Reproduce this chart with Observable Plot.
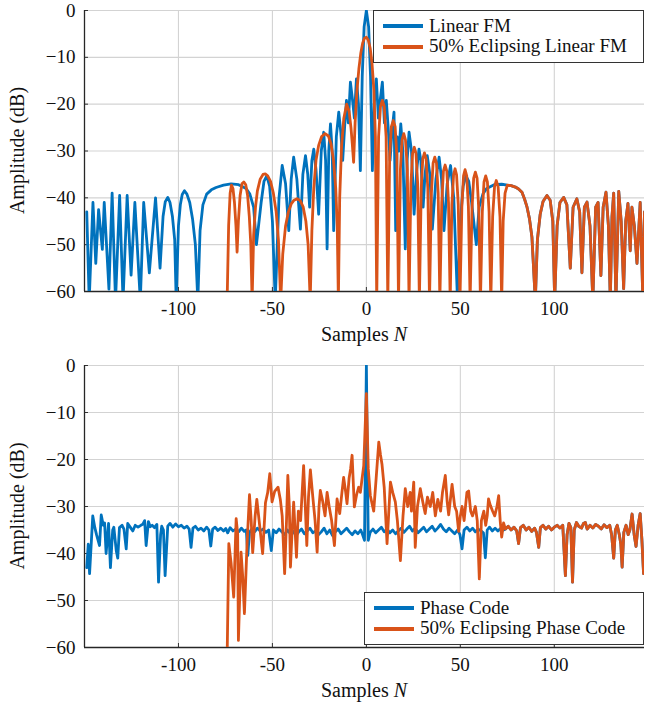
<!DOCTYPE html>
<html><head><meta charset="utf-8">
<script src="https://cdn.jsdelivr.net/npm/d3@7"></script>
<script src="https://cdn.jsdelivr.net/npm/@observablehq/plot@0.6"></script>
<style>
html,body{margin:0;padding:0;background:#fff;}
#wrap{position:relative;width:645px;height:702px;font-family:"Liberation Serif",serif;overflow:hidden;}
#wrap svg{display:block;}
.legend{position:absolute;right:1px;background:#fff;border:1px solid #333;box-sizing:border-box;font-size:19px;line-height:20.5px;padding:4.75px 0 5.25px 0;}
.row{position:relative;height:20.5px;display:flex;align-items:center;white-space:nowrap;color:#111;}
.sw{display:inline-block;width:40px;height:4px;margin-left:9px;margin-right:6px;flex:none;}
</style></head><body><div id="wrap"></div>
<script>
// ---------- shared axes ----------
const xDomain = [-150, 148];
const yDomain = [-60, 0];
const xTicks = [-100, -50, 0, 50, 100];
const yTicks = [0, -10, -20, -30, -40, -50, -60];
const colors = ["#0072BD", "#D95319"];
const seriesTop = ["Linear FM", "50% Eclipsing Linear FM"];
const seriesBottom = ["Phase Code", "50% Eclipsing Phase Code"];
const xLabel = "Samples N";
const yLabel = "Amplitude (dB)";

// ---------- top panel: Linear FM (sample, dB) ----------
const lfmMain = [
[-148.8,-43],[-147.5,-62],[-145.5,-41],[-144,-54],[-142.5,-42.5],[-140.5,-51],[-139.5,-41],[-137,-59.5],
[-135.3,-39],[-133.5,-62],[-131.3,-39.5],[-129.5,-62],[-127.3,-39.5],[-125.2,-56.5],[-123.2,-41],[-120.3,-62],
[-118.5,-41],[-115.5,-56],[-112.2,-40],[-109.8,-55],[-108.2,-44],[-107,-40.8],[-105.7,-39.9],[-104.5,-41],
[-103.2,-44],[-102,-49],[-101.2,-62],[-100,-46],[-99,-41.5],[-98,-39.3],[-96.8,-38.5],[-95.5,-39.2],[-94,-41],
[-92.5,-44.5],[-91,-50],[-89.7,-62],[-88.5,-47],[-87,-41.5],[-85,-39.2],[-82.5,-38.3],[-80,-37.8],[-76,-37.3],
[-72,-37],[-68,-37.2],[-64,-38],[-62,-39.2],[-60,-42],[-58.5,-50],[-56,-41],[-54.5,-36.5],[-53,-35.3],
[-51.5,-37.5],[-50,-45],[-48.5,-62],
[-46.5,-40],[-44.8,-33.1],[-43,-37],[-41.3,-47],[-40,-36],[-38.7,-31.3],[-37,-36],[-35.1,-46.7],[-33.8,-35],
[-32.4,-31],[-31.2,-35],[-30.2,-42],[-29,-32],[-28,-29.6],[-26.8,-34],[-25.4,-43.5],[-24,-30],[-22.7,-26],
[-21.7,-32],[-20.9,-50.9],[-20,-30],[-19.1,-24.2],[-18.2,-30],[-17.4,-47],[-16,-27],[-14.7,-21.7],[-13.6,-26],
[-12.6,-32],[-11.6,-25],[-10.6,-19.2],[-9.6,-24],[-8.5,-15.3],[-7.4,-19],[-6.4,-23],[-5.3,-14.6],[-4.2,-20],
[-3.2,-34.2],[-2.2,-14],[-1.2,-3.5],[0,0],[1.2,-3.5],[2.2,-14],[3.2,-34.2],[4.2,-20],[5.3,-14.6],[6.4,-23],
[7.4,-19],[8.5,-15.3],[9.6,-24],[10.6,-19.2],[11.6,-25],[12.6,-32],[13.6,-26],[14.7,-21.7],[15.6,-47],
[16.4,-27],[17.4,-30],[18.3,-24.2],[19.4,-30],[20.7,-50.9],[21.7,-32],[22.7,-26],[24,-30],[25.4,-43.5],
[26.8,-34],[28,-29.6],[29,-32],[30.2,-42],[31.2,-35],[32.4,-31],[33.8,-35],[35.1,-46.7],[37,-36],[38.7,-31.3],
[40,-36],[41.3,-47],[43,-37],[44.8,-33.1],[46.5,-40],[48.5,-62],[50,-45],[51.5,-37.5],[53,-35.3],[54.5,-36.5],
[56,-41],[58.5,-50],[60,-42],[62,-39.2],[64,-38],[68,-37.2],[72,-37.1]
];
// ---------- top panel: 50% Eclipsing Linear FM ----------
const lfmEclMain = [
[-74.1,-62],[-73.3,-46],[-72.5,-39],[-71.8,-37.3],[-71,-38],[-70.2,-41],[-69.4,-46],[-68.8,-51.6],[-68.1,-45],
[-67.2,-39.5],[-66.2,-37],[-65.2,-36.6],[-64.2,-37.2],[-63.2,-39.5],[-62.3,-44],[-61.5,-50],[-60.8,-62],
[-60,-48],[-59,-42],[-58,-38.5],[-56.5,-36],[-55,-35],[-53.8,-34.9],[-52.5,-35.3],[-51,-36.5],[-49.5,-39],
[-48,-43],[-46.8,-49],[-45.6,-62],[-44.5,-52],[-43,-46],[-41.5,-43],[-40,-41.3],[-38.5,-40.5],[-36.9,-40.2],
[-35.2,-40.6],[-33.6,-42],[-32.2,-45],[-31,-50],[-29.9,-62],[-29,-47],[-28,-38],[-26.8,-32],[-25.4,-28.8],
[-23.8,-26.9],[-22,-26.3],[-20.2,-26.8],[-18.8,-28.5],[-17.5,-32],[-16.3,-38],[-15.5,-46],[-14.9,-62],
[-14.2,-40],[-13.2,-29],[-12,-23],[-10.5,-20],[-9.2,-21.5],[-8.2,-25],[-7.5,-28.5],[-6.8,-32.4],[-6,-24],
[-5,-17],[-4,-12.5],[-3,-9.2],[-2,-7],[-1,-5.9],[0,-5.7],[1,-6.3],[2,-8],[3,-11.3],[4,-17],[4.8,-27],[5.5,-62],
[6.5,-27],[7.5,-20.5],[8.5,-19.2],[9.5,-20.5],[10.5,-27],[11.4,-62],
[12.4,-31],[13.3,-24.8],[14.3,-23.5],[15.3,-24.8],[16.2,-31],[17.1,-62],
[18.1,-34],[19,-27.6],[19.9,-26.3],[20.8,-27.6],[21.8,-34],[22.7,-62],
[23.7,-37],[24.6,-30.5],[25.5,-29.2],[26.4,-30.5],[27.3,-37],[28.2,-62],
[29.2,-38],[30,-31.7],[30.9,-30.4],[31.8,-31.7],[32.7,-38],[33.6,-62],
[34.6,-39],[35.5,-32.6],[36.4,-31.3],[37.3,-32.6],[38.2,-39],[39.1,-62],
[40.1,-41],[41,-34.3],[41.9,-33],[42.8,-34.3],[43.7,-41],[44.6,-62],
[45.5,-41.5],[46.4,-35.1],[47.2,-33.8],[48,-35.1],[48.9,-41.5],[49.8,-62],
[50.8,-42],[51.7,-35.3],[52.5,-34],[53.4,-35.3],[54.3,-42],[55.2,-62],
[56.2,-42.5],[57.1,-35.8],[58,-34.5],[58.9,-35.8],[59.8,-42.5],[60.7,-62],
[61.7,-43],[62.6,-36.6],[63.5,-35.3],[64.4,-36.6],[65.3,-43],[66.2,-62],
[67.2,-44],[68.2,-37.6],[69.1,-36.3],[70.1,-37.6],[71.1,-44],[72,-62],[72.8,-45],[73.8,-39]
];
// shared by both top curves beyond ~75 samples
const tailTop = [
[75,-37.3],[77,-37.4],[79.3,-37.7],[81,-38.1],[82.8,-38.8],[84.2,-40.3],[85.5,-42],[86.8,-44.5],[88.1,-48.4],
[89.9,-62],[91,-49],[92.5,-43.5],[94,-40.8],[96.1,-39.5],[97.8,-40.5],[99.2,-45],[100.2,-62],[101.5,-46],
[103,-41],[105,-39.9],[106.7,-41.5],[108.5,-55],[110,-42],[112,-40.2],[113.5,-43],[114.7,-56],[116,-42],
[117.4,-40.9],[119,-46],[120.5,-62],[122,-42],[123.3,-41],[124.8,-56.6],[126,-42],[127.5,-38.8],[128.8,-46],
[129.8,-62],[130.7,-44],[131.6,-39],[132.8,-62],[134.3,-38.6],[135.6,-45],[136.9,-59.4],[138,-45],[139.2,-41.2],
[140.4,-51.3],[141.3,-42],[142.6,-46],[144,-54],[145.7,-41],[147,-60],[148,-43]
];

// ---------- bottom panel: Phase Code ----------
const pcMain = [
[-148.8,-43],[-148,-38],[-147.3,-44.3],[-145.6,-32],[-144.5,-34.5],[-143.6,-36],[-142,-38.3],[-141.1,-31.8],
[-140,-34],[-139.3,-33.5],[-138.5,-40],[-137.2,-33.6],[-136.2,-43],[-135,-35],[-134.4,-34.4],[-133.1,-39.4],
[-132.3,-41],[-131.4,-34.5],[-130,-34],[-129,-34.8],[-127.8,-39],[-127,-33.6],[-125.5,-34.5],[-124.3,-35.2],
[-123,-34],[-121.5,-34.4],[-120,-34],[-119,-33.8],[-118,-33],[-117.2,-38.3],[-116,-33.2],[-115,-34.3],[-114,-34],
[-112.8,-34.5],[-111.5,-33.8],[-110.6,-46.1],[-109.5,-36],[-108.9,-34.2],[-108,-35],[-107.1,-44.7],[-105.7,-34.2],
[-104.5,-33.6],[-103,-34.4],[-101.5,-33.7],[-100,-34.3],[-98.5,-34],[-97,-34.6],[-95.5,-34.2],[-94.3,-34.8],
[-93.3,-38.7],[-92.3,-34.6],[-91,-34.2],[-89.5,-35],[-88,-34.6],[-86.5,-35.2],[-85,-34.4],[-83.8,-35],[-82.8,-38.4],
[-81.8,-34.8],[-80.5,-34.4],[-79,-35.1],[-77.5,-34.6],[-76,-35.2],[-74.8,-34.7],[-73.8,-35.6],[-72.5,-34.5],
[-71,-35.2],[-69.5,-34.8],[-68,-35.4],[-66.5,-34.6],[-65,-35.3],[-63.9,-35],[-63.1,-40.4],[-62.2,-35.5],
[-61,-34.8],[-59.5,-35.4],[-58,-34.6],[-56.5,-35.2],[-55,-34.8],[-53.5,-35.5],[-52,-35],[-50.6,-39.4],[-49.5,-35],
[-48,-35.6],[-46.5,-34.8],[-45,-35.4],[-43.5,-36],[-42,-35],[-40.5,-35.8],[-39,-35.2],[-37.5,-36.2],[-36,-35.4],
[-34.5,-34.8],[-33,-35.8],[-31.5,-35.2],[-30,-34.6],[-28.5,-35.6],[-27,-35.2],[-25.5,-36],[-24,-35.4],[-22.5,-34.6],
[-21,-35.8],[-19.5,-35],[-18,-36.2],[-16.5,-35.4],[-15,-34.8],[-13.5,-35.8],[-12,-35.2],[-10.5,-34.6],[-9,-35.4],
[-7.5,-36],[-6,-35.2],[-4.5,-35.8],[-3,-35],[-2,-36],[-1,-37.2],[0,0],[1,-37.2],[2,-35.5],[3.5,-34.8],[5,-35.6],
[6.5,-35],[8,-34.4],[9.5,-35.4],[11,-34.8],[12.5,-35.6],[14,-35],[15.5,-35.8],[17,-35.2],[18.5,-34.6],[20,-35.5],
[21.5,-34.8],[23,-34.2],[24.5,-35.2],[26,-34.6],[27.5,-35.6],[29,-35],[30.5,-34.4],[32,-35.4],[33.5,-34.8],
[35,-34.2],[36.5,-35.2],[38,-34.6],[39.5,-33.8],[41,-34.8],[42.5,-35.4],[44,-34.6],[45.5,-35.2],[47,-35.8],
[48.5,-35],[49.8,-36],[50.9,-39],[52,-35],[53.5,-34.4],[55,-35.2],[56.5,-34.6],[58,-35.4],[59.5,-34.8],[61,-35.2],
[62.3,-35.6],[63.3,-40.9],[64.3,-35],[65.5,-34.4],[67,-35.2],[68.5,-34.6],[70,-35.2],[71.5,-34.6],[73,-35]
];
// ---------- bottom panel: 50% Eclipsing Phase Code ----------
const pcEclMain = [
[-74.1,-62],[-73.2,-37.9],[-72,-42],[-70.6,-49.3],[-69.3,-32.6],[-68.5,-35.8],[-68.1,-58.5],[-66.7,-39.7],
[-65.8,-45],[-64.9,-52.8],[-63.5,-38],[-62.2,-27.5],[-61.3,-33],[-60.5,-39.8],[-59.2,-32],[-58.3,-28.5],
[-56.8,-34],[-55.2,-40],[-53.7,-29.2],[-52.5,-27],[-51.4,-23],[-50.2,-29],[-48.8,-26.8],[-47,-25.9],[-45.8,-28.5],
[-44.8,-32],[-43.5,-44.3],[-42.5,-33],[-41.8,-23.4],[-41,-30],[-40.4,-42.9],[-39.5,-35],[-38.7,-29.1],[-37.2,-40.8],
[-36.2,-31],[-35,-33],[-33.4,-21.3],[-32.5,-30],[-31.7,-38.3],[-30.8,-28],[-29.8,-22.2],[-28.5,-28],[-27.3,-33],
[-26.2,-39.7],[-25.2,-30],[-24.5,-26.6],[-23.3,-28.8],[-22,-32],[-20.9,-27],[-19.8,-30],[-18.5,-33],[-17,-38.3],
[-15.6,-28.4],[-14.2,-31.5],[-13,-27],[-12.1,-23.8],[-11,-27],[-10.3,-29.4],[-9.2,-24],[-8.4,-22],[-7.6,-19.1],
[-6.4,-30.1],[-5.2,-27.5],[-4.1,-25.9],[-3.2,-27],[-2.3,-24.1],[-1.4,-21.3],[0,-6],[1,-22],[2.1,-27.7],[3.9,-31],
[5.2,-24],[6.6,-16.3],[7.5,-19],[8.3,-21],[9.5,-26],[11,-37.9],[12.8,-24.8],[14,-27],[15.4,-29],[16.5,-33],
[18.1,-41.5],[19.5,-32],[20.7,-26.2],[22,-30],[23.3,-27],[24,-31],[25.2,-24.8],[26,-38.7],[27.2,-30],[28.7,-26.2],
[30,-29],[31.3,-31.5],[32.5,-28],[34,-30],[35.3,-27],[36.7,-32],[38,-28.5],[39.5,-31],[40.5,-27],[42,-23.4],
[43,-29],[43.8,-31.8],[45.6,-25.3],[47,-30],[48,-31],[49.1,-35.3],[50,-32],[50.9,-30],[52,-33],[53.5,-27],
[54.4,-26.7],[55.5,-31],[56.5,-32],[58,-30],[59,-33],[60.1,-45.4],[61.2,-33],[62.5,-31],[63.5,-34],[64.3,-32],
[65,-28.4],[66,-29.8],[67.2,-31],[68.3,-32],[69.5,-30],[70.4,-27.7],[71.2,-33],[72,-36.5],[73,-33.5]
];
// shared by both bottom curves beyond ~74 samples
const tailBottom = [
[74,-34.8],[75.5,-34.2],[77,-35],[78.5,-34.4],[80,-35.2],[81,-37.9],[82,-34.5],[83.5,-34],[85,-35],[86.5,-34.4],
[88,-35.3],[89.5,-34.6],[90.5,-35.5],[91.7,-38.7],[92.6,-34.5],[94,-34],[95.5,-34.8],[97,-34.2],[98.5,-35],
[100,-34.4],[101.5,-34],[103,-34.6],[104.5,-34],[105.9,-44.7],[106.8,-36],[107.8,-33.6],[108.8,-34.5],[109.7,-46.1],
[110.6,-35],[111.8,-33.4],[113,-34.2],[114.5,-34.6],[115.5,-33.6],[116.5,-33.4],[117.5,-34.8],[119,-34],
[120.5,-34.6],[122,-33.8],[123.5,-34.2],[125,-34.8],[126.5,-33.9],[128,-34.5],[129.5,-34],[130.5,-36],[131.6,-41],
[132.5,-35],[133.5,-34],[134.6,-36],[135.4,-38],[136.1,-42.9],[137,-35.5],[138.2,-34],[139.3,-36],[140.2,-35],
[141.4,-31.6],[142.5,-36],[143.5,-38.5],[144.6,-34],[145.7,-31.5],[146.6,-37],[147.5,-44.3],[148,-40]
];

const topData = [lfmMain.concat(tailTop), lfmEclMain.concat(tailTop)];
const bottomData = [pcMain.concat(tailBottom), pcEclMain.concat(tailBottom)];

const FONT = "Liberation Serif";

function panel(seriesData, height, mTop, mBottom) {
  const plotH = height - mTop - mBottom;
  const plotW = 645 - 84 - 1;
  const marks = [
    Plot.gridX(xTicks, {stroke: "#d3d3d3", strokeOpacity: 1, strokeWidth: 1.1}),
    Plot.gridY(yTicks, {stroke: "#d3d3d3", strokeOpacity: 1, strokeWidth: 1.1}),
    Plot.tickY(yTicks, {stroke: "#333", strokeWidth: 1, insetRight: plotW - 4}),
    Plot.tickX(xTicks, {stroke: "#333", strokeWidth: 1, insetTop: plotH - 4}),
    Plot.ruleX([xDomain[0]], {stroke: "#262626", strokeWidth: 1.3}),
    Plot.ruleY([yDomain[0]], {stroke: "#262626", strokeWidth: 1.3}),
    Plot.axisX({ticks: xTicks, tickSize: 0, tickPadding: 10, tickFormat: d => String(d), label: null, fontSize: 19, fill: "#111"}),
    Plot.axisY({ticks: yTicks, tickSize: 0, tickPadding: 9, label: null, fontSize: 19, fill: "#111"}),
    ...seriesData.map((d, i) => Plot.line(d, {x: p => p[0], y: p => p[1], stroke: colors[i], strokeWidth: 2.8, clip: true})),
    Plot.text([xLabel], {frameAnchor: "bottom", fontSize: 20, fill: "#111"}),
    Plot.text([yLabel], {frameAnchor: "left", rotate: -90, fontSize: 20, fill: "#111"})
  ];
  const svg = Plot.plot({
    width: 645, height, marginLeft: 84, marginRight: 1, marginTop: mTop, marginBottom: mBottom,
    x: {domain: xDomain}, y: {domain: yDomain},
    style: {fontFamily: FONT, fontSize: "19px", background: "#fff", overflow: "visible"},
    marks
  });
  const bottomY = height - mBottom;
  const cx = (84 + 644) / 2;
  const cy = (mTop + bottomY) / 2;
  svg.querySelectorAll("text").forEach(t => {
    if (t.textContent === xLabel || t.textContent === yLabel) {
      const isX = t.textContent === xLabel;
      if (t.parentNode) t.parentNode.removeAttribute("transform");
      ["x", "y", "dx"].forEach(a => t.removeAttribute(a));
      t.setAttribute("dy", "0.32em");
      t.setAttribute("text-anchor", "middle");
      t.setAttribute("transform", isX ? `translate(${cx},${bottomY + 44})` : `translate(18,${cy}) rotate(-90)`);
      if (isX) t.innerHTML = 'Samples <tspan font-style="italic">N</tspan>';
    }
  });
  return svg;
}

function legend(names, top, left) {
  const box = document.createElement("div");
  box.className = "legend";
  box.style.top = top + "px";
  box.style.left = left + "px";
  names.forEach((n, i) => {
    const row = document.createElement("div");
    row.className = "row";
    const sw = document.createElement("span");
    sw.className = "sw";
    sw.style.background = colors[i];
    const tx = document.createElement("span");
    tx.textContent = n;
    row.appendChild(sw); row.appendChild(tx);
    box.appendChild(row);
  });
  return box;
}

const wrap = document.getElementById("wrap");
wrap.appendChild(panel(topData, 352, 10, 61));
wrap.appendChild(panel(bottomData, 350, 13, 55));
wrap.appendChild(legend(seriesTop, 10, 373));
wrap.appendChild(legend(seriesBottom, 592, 364));
</script></body></html>
